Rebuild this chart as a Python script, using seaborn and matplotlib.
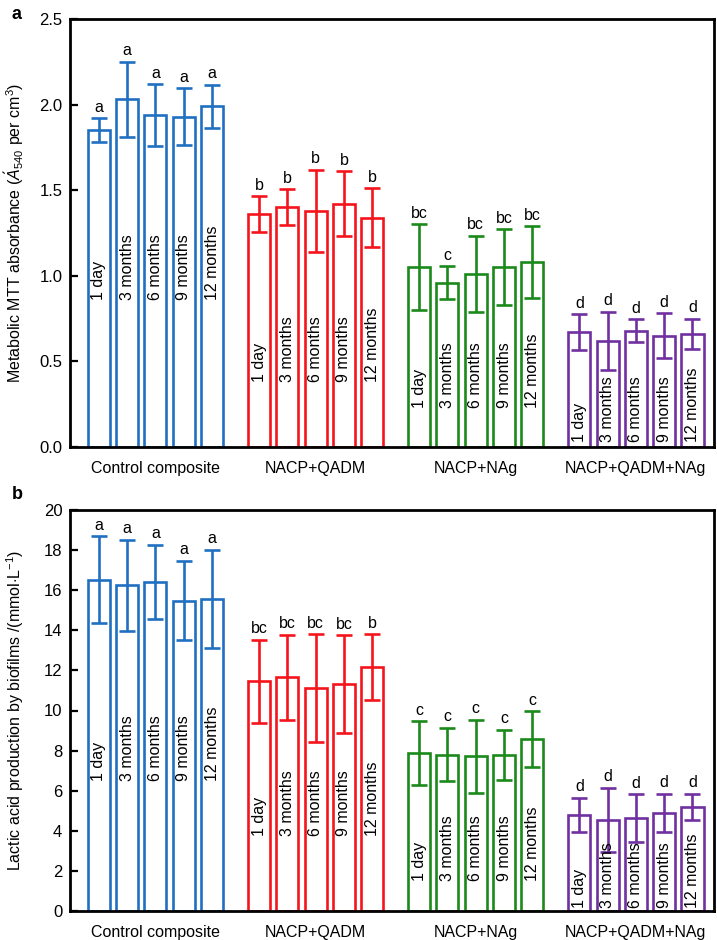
import pandas as pd
import matplotlib
matplotlib.use("Agg")
import matplotlib.pyplot as plt
import numpy as np
import seaborn as sns

# data
groups = ["Control composite", "NACP+QADM", "NACP+NAg", "NACP+QADM+NAg"]
times = ["1 day", "3 months", "6 months", "9 months", "12 months"]
colors = ["#1f70c1", "#f5141c", "#1a8a1a", "#7030a0"]

mtt_mean = [[1.85, 2.03, 1.94, 1.93, 1.99],
            [1.36, 1.40, 1.38, 1.42, 1.34],
            [1.05, 0.96, 1.01, 1.05, 1.08],
            [0.67, 0.62, 0.68, 0.65, 0.66]]
mtt_sd = [[0.07, 0.22, 0.18, 0.165, 0.125],
          [0.105, 0.105, 0.24, 0.19, 0.17],
          [0.25, 0.095, 0.224, 0.223, 0.21],
          [0.105, 0.17, 0.065, 0.13, 0.088]]
mtt_letters = [["a"] * 5, ["b"] * 5, ["bc", "c", "bc", "bc", "bc"], ["d"] * 5]

lactic_mean = [[16.53, 16.25, 16.42, 15.48, 15.57],
               [11.45, 11.67, 11.12, 11.33, 12.17],
               [7.87, 7.80, 7.72, 7.78, 8.57],
               [4.78, 4.55, 4.62, 4.90, 5.19]]
lactic_sd = [[2.15, 2.27, 1.85, 1.98, 2.45],
             [2.08, 2.12, 2.68, 2.43, 1.63],
             [1.60, 1.33, 1.83, 1.27, 1.39],
             [0.86, 1.60, 1.20, 0.95, 0.66]]
lactic_letters = [["a"] * 5, ["bc", "bc", "bc", "bc", "b"], ["c"] * 5, ["d"] * 5]

# where the rotated time labels start inside the bars
mtt_label_y = [0.86, 0.38, 0.23, 0.03]
lactic_label_y = [6.5, 3.75, 1.5, 0.15]

sns.set_style("ticks")
plt.rcParams["font.family"] = ["Liberation Sans", "DejaVu Sans"]
plt.rcParams["mathtext.fontset"] = "custom"
plt.rcParams["mathtext.rm"] = "Liberation Sans"
plt.rcParams["mathtext.it"] = "Liberation Sans:italic"
for key in ["text.color", "axes.labelcolor", "xtick.color", "ytick.color"]:
    plt.rcParams[key] = "black"
FS = 11.5

group_step = 5.66
pos = [[g * group_step + i for i in range(5)] for g in range(4)]


def panel(ax, means, sds, letters, label_y, ymax, yticks, fmt, ylabel):
    df = pd.DataFrame({
        "pos": np.ravel(pos),
        "mean": np.ravel(means),
        "group": np.repeat(groups, 5),
    })
    sns.barplot(data=df, x="pos", y="mean", hue="group", palette=colors,
                native_scale=True, fill=False, dodge=False, width=0.78,
                linewidth=1.9, errorbar=None, legend=False, ax=ax)
    for g in range(4):
        ax.errorbar(pos[g], means[g], yerr=sds[g], fmt="none", ecolor=colors[g],
                    elinewidth=1.9, capsize=5.5, capthick=1.9, zorder=3)
        for i in range(5):
            ax.annotate(letters[g][i], (pos[g][i], means[g][i] + sds[g][i]),
                        xytext=(0, 2.5), textcoords="offset points",
                        ha="center", va="bottom", fontsize=FS)
            ax.text(pos[g][i], label_y[g], times[i], rotation=90,
                    ha="center", va="bottom", fontsize=FS)
    ax.set_xlim(-1.02, 3 * group_step + 4 + 0.76)
    ax.set_ylim(0, ymax)
    ax.set_yticks(yticks)
    ax.set_yticklabels([fmt.format(t) for t in yticks], fontsize=FS + 0.5)
    ax.set_xticks([g * group_step + 2 for g in range(4)])
    ax.set_xticklabels(groups, fontsize=FS)
    ax.tick_params(axis="x", length=0, pad=10)
    ax.tick_params(axis="y", direction="in", length=6, width=1.6, pad=5.5)
    ax.set_xlabel("")
    ax.set_ylabel(ylabel, fontsize=FS)
    ax.yaxis.set_label_coords(-0.068, 0.5)
    for s in ax.spines.values():
        s.set_visible(True)
        s.set_linewidth(2)
        s.set_color("black")


fig = plt.figure(figsize=(7.17, 9.40), dpi=100)
ax_a = fig.add_axes([70 / 717, 1 - 447 / 940, 644 / 717, 428 / 940])
ax_b = fig.add_axes([70 / 717, 1 - 911 / 940, 644 / 717, 401 / 940])

panel(ax_a, mtt_mean, mtt_sd, mtt_letters, mtt_label_y, 2.5,
      [0, 0.5, 1.0, 1.5, 2.0, 2.5], "{:.1f}",
      r"Metabolic MTT absorbance ($\acute{A}_{540}$ per cm$^3$)")
panel(ax_b, lactic_mean, lactic_sd, lactic_letters, lactic_label_y, 20,
      list(range(0, 21, 2)), "{:d}",
      r"Lactic acid production by biofilms /(mmol$\cdot$L$^{-1}$)")

fig.text(12 / 717, 1 - 6 / 940, "a", fontsize=13, weight="bold", va="top")
fig.text(12 / 717, 1 - 486 / 940, "b", fontsize=13, weight="bold", va="top")

fig.savefig("out.png", dpi=100)
